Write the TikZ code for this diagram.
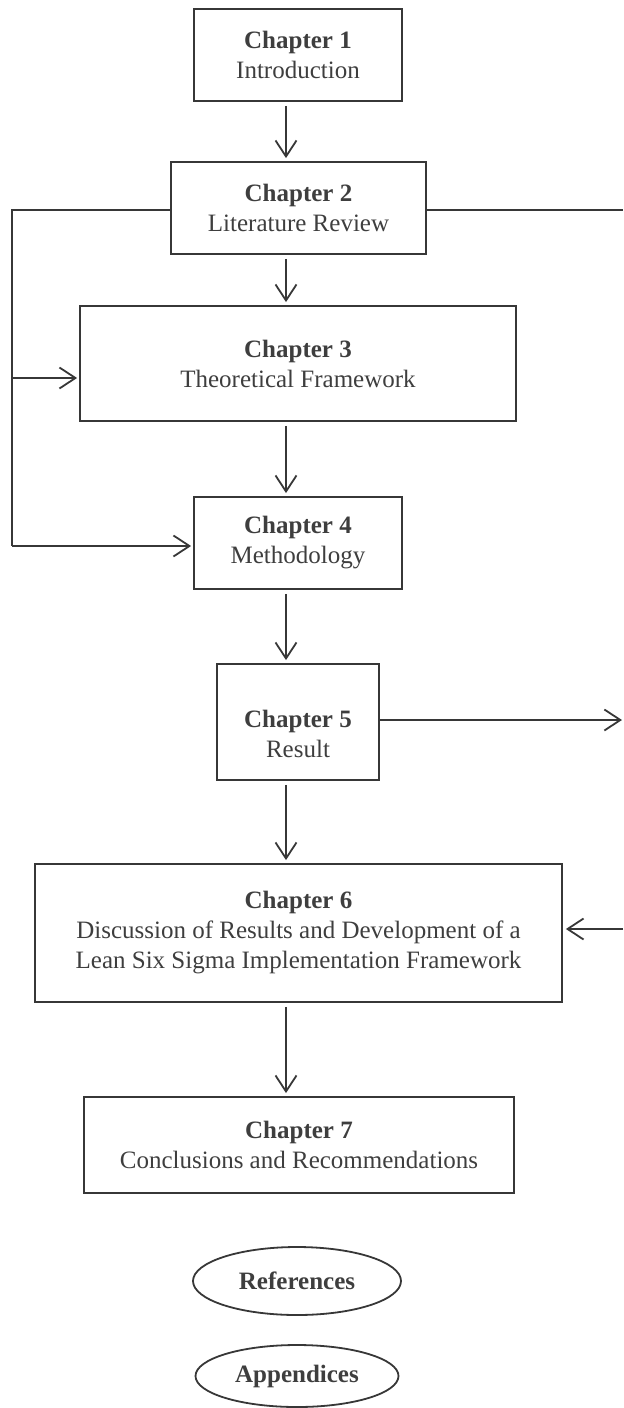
\documentclass[tikz,border=0pt]{standalone}
\usepackage{fontspec}
\setmainfont{Liberation Serif}
\usetikzlibrary{arrows.meta,shapes.geometric}
\definecolor{ink}{RGB}{55,55,55}
\definecolor{txt}{RGB}{62,62,62}
\begin{document}
\begin{tikzpicture}[x=0.5pt,y=-0.5pt,
  chapbox/.style={draw=ink, line width=0.9pt, align=center, inner sep=0pt, text=txt, font=\fontsize{12.5}{15}\selectfont},
  chaptext/.style={align=center, inner sep=0pt, text=txt, font=\fontsize{12.5}{15}\selectfont},
  backbox/.style={draw=ink, line width=0.9pt, ellipse, inner sep=0pt, text=txt, font=\fontsize{12.5}{15}\selectfont\bfseries},
  conn/.style={draw=ink, line width=0.9pt},
  arr/.style={conn, -{Straight Barb[length=8pt,width=10.5pt,line width=0.9pt]}},
  down/.style={arr, shorten <=2pt, shorten >=1.5pt},
]
\useasboundingbox (0,0) rectangle (623,1408);

% chapter boxes
\node[chapbox, minimum width=104pt,   minimum height=46pt]   (c1) at (298,55)    {\textbf{Chapter 1}\\Introduction};
\node[chapbox, minimum width=127.5pt, minimum height=46pt]   (c2) at (298.5,208) {\textbf{Chapter 2}\\Literature Review};
\node[chapbox, minimum width=218pt,   minimum height=57.5pt] (c3) at (298,363.5) {\textbf{Chapter 3}\\Theoretical Framework};
\node[chapbox, minimum width=104pt,   minimum height=46pt]   (c4) at (298,543)   {\textbf{Chapter 4}\\Methodology};
\node[chapbox, minimum width=81pt,    minimum height=58pt]   (c5) at (298,722)   {};
\node[chaptext] (c5t) at (298,734) {\textbf{Chapter 5}\\Result};
\node[chapbox, minimum width=263.5pt, minimum height=69pt]   (c6) at (298.5,933) {\textbf{Chapter 6}\\Discussion of Results and Development of a\\Lean Six Sigma Implementation Framework};
\node[chapbox, minimum width=215pt,   minimum height=48pt]   (c7) at (299,1145)  {\textbf{Chapter 7}\\Conclusions and Recommendations};

% back matter
\node[backbox, minimum width=104pt,   minimum height=34pt] (refs) at (297,1281) {References};
\node[backbox, minimum width=101.5pt, minimum height=31pt] (apps) at (297,1376) {Appendices};

% guide coordinates
\coordinate (ax)   at (286,0);
\coordinate (lmid) at (12,378);
\coordinate (lbot) at (12,546);
\coordinate (r2)   at (623,210);
\coordinate (r5)   at (622,720);
\coordinate (r6)   at (623,929);

% main sequence
\draw[down] (c1.south -| ax) -- (c2.north -| ax);
\draw[down] (c2.south -| ax) -- (c3.north -| ax);
\draw[down] (c3.south -| ax) -- (c4.north -| ax);
\draw[down] (c4.south -| ax) -- (c5.north -| ax);
\draw[down] (c5.south -| ax) -- (c6.north -| ax);
\draw[down] (c6.south -| ax) -- (c7.north -| ax);

% left feedback from chapter 2
\draw[conn] (c2.west |- r2) -| (lbot);
\draw[arr, shorten >=1pt] (lmid) -- (c3.west |- lmid);
\draw[arr, shorten >=1pt] (lbot) -- (c4.west |- lbot);

% right-hand links
\draw[conn] (c2.east |- r2) -- (r2);
\draw[arr] (c5.east |- r5) -- (r5);
\draw[arr, shorten >=1.5pt] (r6) -- (c6.east |- r6);
\end{tikzpicture}
\end{document}
